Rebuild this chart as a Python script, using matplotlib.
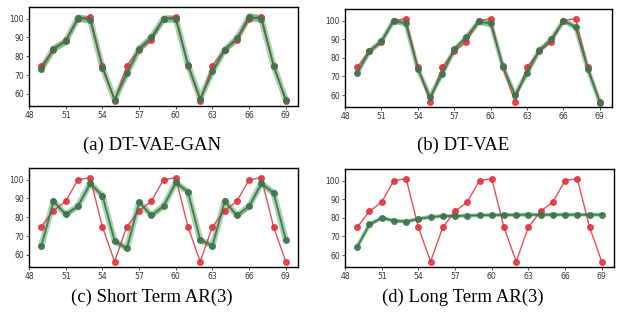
import matplotlib

matplotlib.use('Agg')

import matplotlib.pyplot as plt
import numpy as np

x = np.arange(49, 70)

# ground truth (red)
truth = [75, 83.5, 88.5, 100, 101, 75, 56.5,
         75, 83.5, 88.5, 100, 101, 75, 56.5,
         75, 83.5, 88.5, 100, 101, 75, 56.5]

# predictions (green), mean and spread
pred_vaegan = [73, 84, 88, 100.5, 99.5, 74, 57, 71, 84, 90, 100, 100, 75.5, 57.5,
               72, 83.5, 89.5, 101, 100, 75, 57]
std_vaegan = [1.5, 2, 1.8, 2, 2, 1.5, 1.2, 1.8, 2, 2, 2, 2, 1.2, 1.2,
              1.5, 1.8, 2, 2.2, 2.2, 1.2, 1]

pred_vae = [72, 83.5, 89, 100, 98.5, 74, 59, 71.5, 84.5, 91, 99.5, 98.5, 75.5, 60,
            72, 84, 90, 100, 96.5, 74, 56]
std_vae = [1.2, 1.5, 1.5, 1.5, 1.5, 1.2, 1.2, 1.5, 1.8, 1.8, 1.8, 1.8, 1.2, 1.2,
           1.5, 1.5, 1.5, 1.5, 1.5, 1.2, 0.8]

pred_short = [64.5, 88.5, 81.5, 86, 98, 91.5, 67.5, 63.5, 88, 81, 86, 98.5, 93.5, 68,
              65, 88.5, 81, 86, 98, 93, 68]
std_short = [0.6, 0.8, 1.2, 1.2, 1.2, 1.2, 1.2, 1.2, 0.8, 1.2, 1.2, 1.2, 1.2, 1.2,
             1.2, 0.8, 1.2, 1.2, 1.2, 1.2, 0.8]

pred_long = [64.5, 76.5, 80, 78.5, 78, 79.5, 80.5, 81, 81, 81.2, 81.4, 81.5, 81.6, 81.6,
             81.7, 81.7, 81.7, 81.7, 81.7, 81.7, 81.7]
std_long = [0.5, 0.8, 0.7, 0.6, 0.6, 0.6, 0.5, 0.5, 0.5, 0.5, 0.5, 0.5, 0.5, 0.5,
            0.5, 0.5, 0.5, 0.5, 0.5, 0.5, 0.5]

captions = ['(a) DT-VAE-GAN', '(b) DT-VAE', '(c) Short Term AR(3)', '(d) Long Term AR(3)']
preds = [pred_vaegan, pred_vae, pred_short, pred_long]
stds = [std_vaegan, std_vae, std_short, std_long]
halo = [4.5, 3.5, 4.5, 3]

# axes rectangles in pixels: left, top, right, bottom
W, H = 617, 320
boxes = [(29, 7, 298, 106), (345, 9, 612, 107), (29, 168, 298, 267), (345, 169, 614, 267)]
cap_pos = [(152, 145), (463, 145), (152, 297), (463, 297)]

fig = plt.figure(figsize=(W / 100, H / 100), dpi=100)

for i in range(4):
    l, t, r, b = boxes[i]
    ax = fig.add_axes([l / W, 1 - b / H, (r - l) / W, (b - t) / H])
    m = np.array(preds[i])
    s = np.array(stds[i])
    ax.fill_between(x, m - s, m + s, color='#4fa05a', alpha=0.5, lw=0)
    ax.plot(x, m, color='#5aa865', lw=halo[i], alpha=0.5, solid_capstyle='round')
    ax.plot(x, truth, color='#e0303a', marker='o', ms=4, lw=1, alpha=0.85)
    ax.plot(x, m, color='#3d7550', marker='o', ms=4, lw=1.3, alpha=0.9)
    ax.set_xlim(48, 70)
    ax.set_ylim(53.6, 106.2)
    ax.set_xticks(np.arange(48, 70, 3))
    ax.set_yticks([60, 70, 80, 90, 100])
    ax.tick_params(labelsize=5.5, length=2, width=0.6, pad=1.5, colors='#333333')
    for sp in ax.spines.values():
        sp.set_linewidth(1.0)
    fig.text(cap_pos[i][0] / W, 1 - cap_pos[i][1] / H, captions[i],
             ha='center', va='center', family='Liberation Serif', fontsize=13.5)

fig.savefig('out.png', dpi=100)
